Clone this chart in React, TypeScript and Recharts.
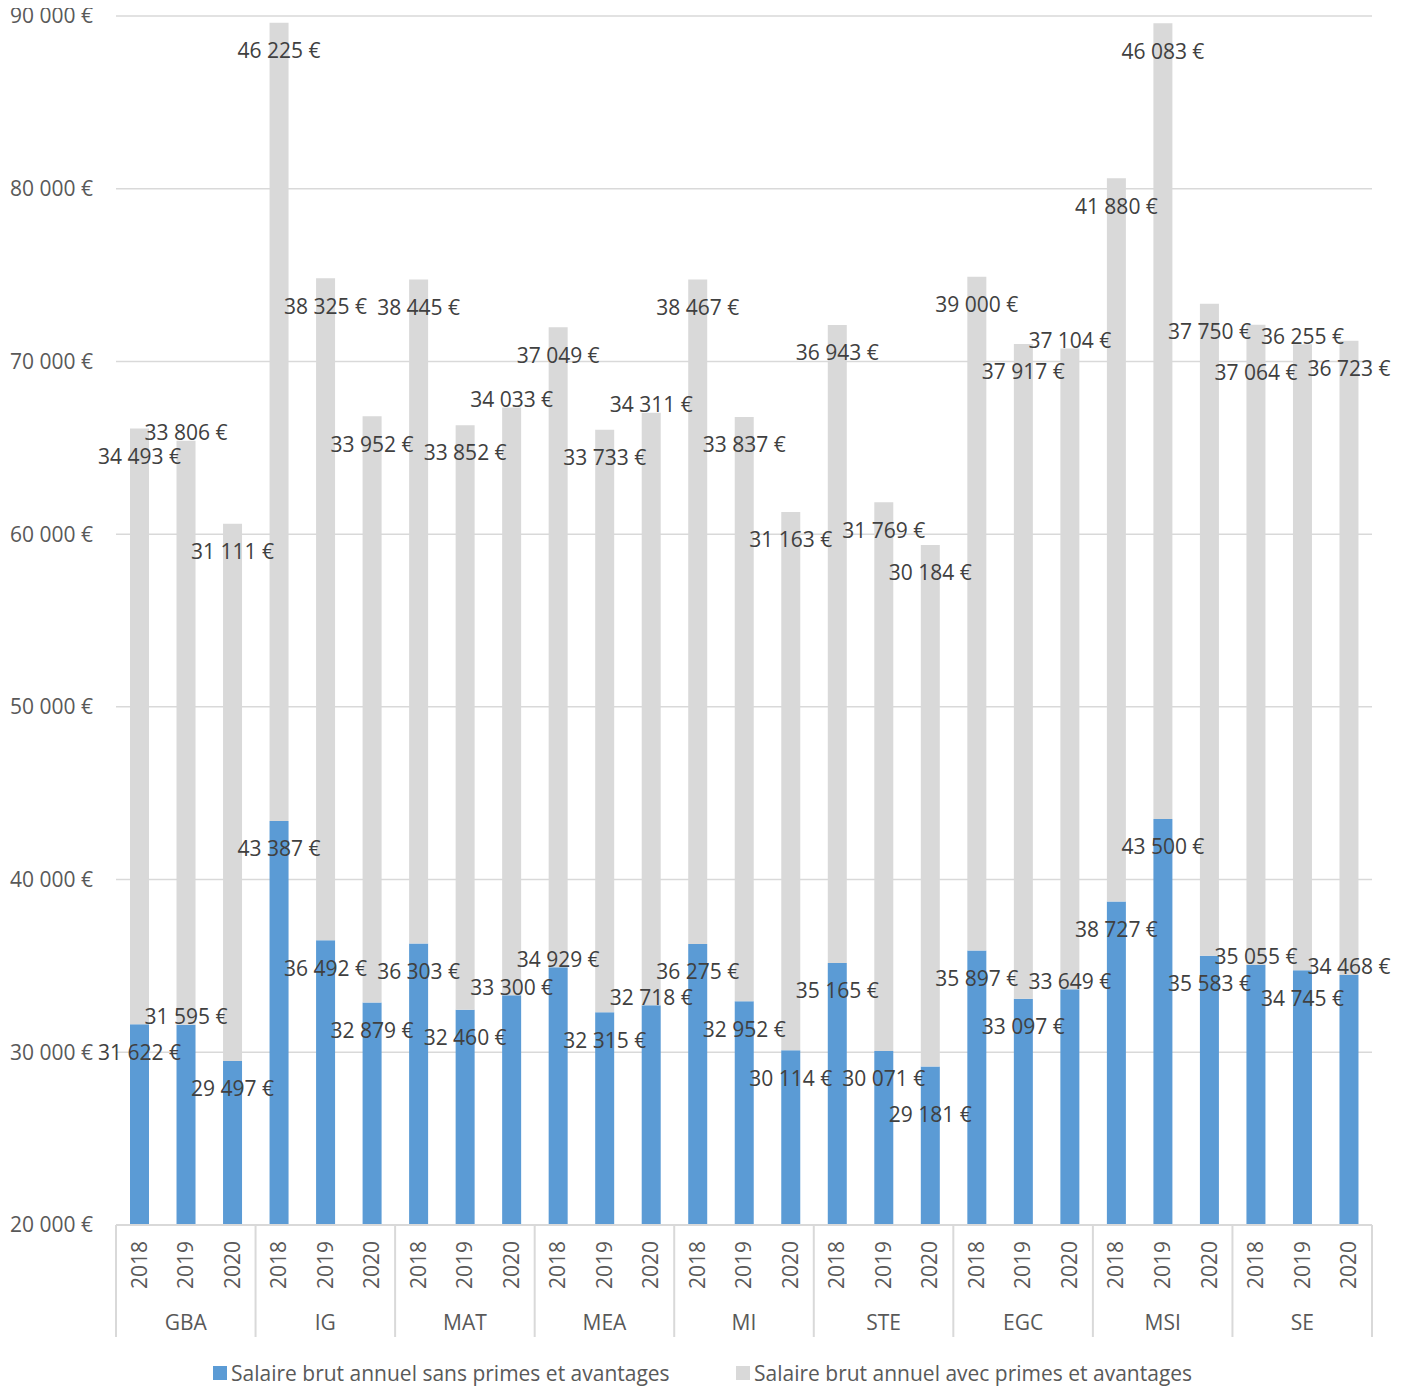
import React from 'react';
import { BarChart, Bar, XAxis, YAxis, CartesianGrid, LabelList } from 'recharts';

const groups = ['GBA', 'IG', 'MAT', 'MEA', 'MI', 'STE', 'EGC', 'MSI', 'SE'];
const years = ['2018', '2019', '2020'];
const sansPrimes = [
  31622, 31595, 29497,
  43387, 36492, 32879,
  36303, 32460, 33300,
  34929, 32315, 32718,
  36275, 32952, 30114,
  35165, 30071, 29181,
  35897, 33097, 33649,
  38727, 43500, 35583,
  35055, 34745, 34468,
];
const avecPrimes = [
  34493, 33806, 31111,
  46225, 38325, 33952,
  38445, 33852, 34033,
  37049, 33733, 34311,
  38467, 33837, 31163,
  36943, 31769, 30184,
  39000, 37917, 37104,
  41880, 46083, 37750,
  37064, 36255, 36723,
];
const yTicks = [20000, 30000, 40000, 50000, 60000, 70000, 80000, 90000];
const seriesNames = [
  'Salaire brut annuel sans primes et avantages',
  'Salaire brut annuel avec primes et avantages',
];

const data = sansPrimes.map((v, i) => ({
  key: `${groups[Math.floor(i / 3)]}-${years[i % 3]}`,
  group: groups[Math.floor(i / 3)],
  year: years[i % 3],
  sans: v,
  avec: avecPrimes[i],
}));

const BLUE = '#5B9BD5';
const GRAY = '#D9D9D9';
const FONT = '"Open Sans", sans-serif';
const CHART_W = 1404;
const CHART_H = 1338;
const MARGIN = { top: 16, right: 40, bottom: 1, left: 0 };
const Y_W = 108;
const X_H = 112;
const PLOT_W = CHART_W - MARGIN.left - MARGIN.right - Y_W;
const PLOT_H = CHART_H - MARGIN.top - MARGIN.bottom - X_H;
const BAND = PLOT_W / data.length;
const Y_MIN = yTicks[0];
const Y_MAX = yTicks[yTicks.length - 1];
const PX_PER_UNIT = PLOT_H / (Y_MAX - Y_MIN);

// Simple collision avoidance between labels of adjacent bars (labels are wider than a band)
const LABEL_H = 21;
const CANDIDATES = [28, -8, 48];
const placeLabels = (tops: number[]) => {
  const offs: number[] = [];
  const centers: number[] = [];
  tops.forEach((t, i) => {
    const topPx = -t * PX_PER_UNIT;
    let chosen = CANDIDATES[0];
    for (const c of CANDIDATES) {
      const y = topPx + c;
      if (i === 0 || Math.abs(y - centers[i - 1]) >= LABEL_H) {
        chosen = c;
        break;
      }
    }
    offs.push(chosen);
    centers.push(topPx + chosen);
  });
  return offs;
};
const blueOffsets = placeLabels(sansPrimes);
const grayOffsets = placeLabels(sansPrimes.map((v, i) => v + avecPrimes[i]));

const fmt = (v: number) => {
  const th = Math.floor(v / 1000);
  const rest = String(v % 1000).padStart(3, '0');
  return `${th} ${rest} €`;
};

const makeLabel = (offsets: number[]) => (props: any) => {
  const { x, y, width, value, index } = props;
  const off = offsets[index] ?? 28;
  return (
    <text
      x={Number(x) + Number(width) / 2}
      y={Number(y) + off}
      textAnchor="middle"
      dy="0.35em"
      fill="#404040"
      fontSize={21}
      fontFamily={FONT}
    >
      {fmt(Number(value))}
    </text>
  );
};
const BlueLabel = makeLabel(blueOffsets);
const GrayLabel = makeLabel(grayOffsets);

const XTick = (props: any) => {
  const { x, y, payload } = props;
  const idx = payload.index;
  const row = data[idx];
  const lines: React.ReactNode[] = [];
  if (idx % 3 === 0) {
    const lx = x - BAND / 2;
    lines.push(<line key="l" x1={lx} x2={lx} y1={y} y2={y + X_H} stroke={GRAY} strokeWidth={2} />);
  }
  if (idx === data.length - 1) {
    const rx = x + BAND / 2;
    lines.push(<line key="r" x1={rx} x2={rx} y1={y} y2={y + X_H} stroke={GRAY} strokeWidth={2} />);
  }
  return (
    <g>
      {lines}
      <text
        x={x}
        y={y + 40}
        transform={`rotate(-90 ${x} ${y + 40})`}
        textAnchor="middle"
        dy="0.35em"
        fill="#595959"
        fontSize={21}
        fontFamily={FONT}
      >
        {row.year}
      </text>
      {idx % 3 === 1 && (
        <text
          x={x}
          y={y + 98}
          textAnchor="middle"
          dy="0.35em"
          fill="#595959"
          fontSize={21}
          fontFamily={FONT}
        >
          {row.group}
        </text>
      )}
    </g>
  );
};

const LegendItem = ({ color, label, left }: { color: string; label: string; left: number }) => (
  <div style={{ position: 'absolute', left, top: 0, display: 'flex', alignItems: 'center', whiteSpace: 'nowrap' }}>
    <div style={{ width: 14, height: 14, background: color, marginRight: 4 }} />
    <span style={{ fontFamily: FONT, fontSize: 21, color: '#595959', lineHeight: '28px' }}>{label}</span>
  </div>
);

export default function App() {
  return (
    <div style={{ position: 'relative', width: CHART_W, height: 1387, marginTop: -8 }}>
      <BarChart width={CHART_W} height={CHART_H} data={data} margin={MARGIN}>
        <CartesianGrid vertical={false} stroke={GRAY} strokeWidth={1.5} />
        <XAxis
          dataKey="key"
          interval={0}
          tickLine={false}
          axisLine={{ stroke: GRAY, strokeWidth: 2 }}
          height={X_H}
          tickSize={0}
          tickMargin={0}
          tick={<XTick />}
        />
        <YAxis
          type="number"
          domain={[Y_MIN, Y_MAX]}
          ticks={yTicks}
          allowDataOverflow
          width={Y_W}
          axisLine={false}
          tickLine={false}
          tickSize={0}
          tickMargin={23}
          tickFormatter={(v: number) => fmt(v)}
          tick={{ fill: '#595959', fontSize: 21, fontFamily: FONT }}
        />
        <Bar dataKey="sans" name={seriesNames[0]} stackId="a" fill={BLUE} barSize={19} isAnimationActive={false}>
          <LabelList dataKey="sans" content={BlueLabel} />
        </Bar>
        <Bar dataKey="avec" name={seriesNames[1]} stackId="a" fill={GRAY} barSize={19} isAnimationActive={false}>
          <LabelList dataKey="avec" content={GrayLabel} />
        </Bar>
      </BarChart>
      <div style={{ position: 'absolute', top: 1359, left: 0, width: CHART_W, height: 28 }}>
        <LegendItem color={BLUE} label={seriesNames[0]} left={205} />
        <LegendItem color={GRAY} label={seriesNames[1]} left={728} />
      </div>
    </div>
  );
}
